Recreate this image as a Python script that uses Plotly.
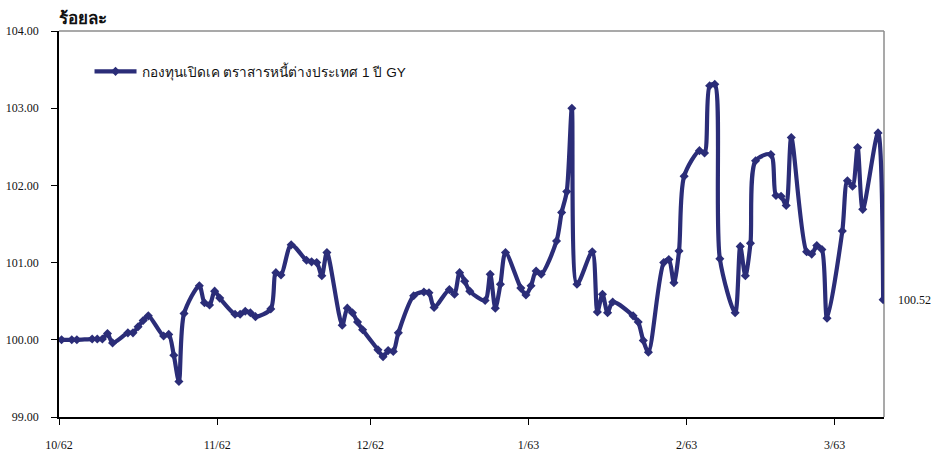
import plotly.graph_objects as go

# ---- data ----
dates = [
    "2019-10-01", "2019-10-03", "2019-10-04", "2019-10-07", "2019-10-08", "2019-10-09",
    "2019-10-10", "2019-10-11", "2019-10-14", "2019-10-15", "2019-10-16", "2019-10-17",
    "2019-10-18", "2019-10-21", "2019-10-22", "2019-10-23", "2019-10-24", "2019-10-25",
    "2019-10-28", "2019-10-29", "2019-10-30", "2019-10-31",
    "2019-11-01", "2019-11-04", "2019-11-05", "2019-11-06", "2019-11-07", "2019-11-08",
    "2019-11-11", "2019-11-12", "2019-11-13", "2019-11-15", "2019-11-18", "2019-11-19",
    "2019-11-20", "2019-11-21", "2019-11-22", "2019-11-25", "2019-11-26", "2019-11-27",
    "2019-11-28", "2019-11-29",
    "2019-12-02", "2019-12-03", "2019-12-04", "2019-12-05", "2019-12-06", "2019-12-09",
    "2019-12-11", "2019-12-12", "2019-12-13", "2019-12-16", "2019-12-17", "2019-12-18",
    "2019-12-19", "2019-12-20", "2019-12-23", "2019-12-24", "2019-12-25", "2019-12-26",
    "2019-12-27", "2019-12-30", "2019-12-31",
    "2020-01-01", "2020-01-02", "2020-01-03", "2020-01-06", "2020-01-07", "2020-01-08",
    "2020-01-09", "2020-01-10", "2020-01-13", "2020-01-14", "2020-01-15", "2020-01-16",
    "2020-01-17", "2020-01-21", "2020-01-22", "2020-01-23", "2020-01-24", "2020-01-27",
    "2020-01-28", "2020-01-29", "2020-01-30", "2020-01-31",
    "2020-02-03", "2020-02-04", "2020-02-05", "2020-02-06", "2020-02-07", "2020-02-10",
    "2020-02-11", "2020-02-12", "2020-02-13", "2020-02-14", "2020-02-17", "2020-02-18",
    "2020-02-19", "2020-02-20", "2020-02-21", "2020-02-24", "2020-02-25", "2020-02-26",
    "2020-02-27", "2020-02-28",
    "2020-03-02", "2020-03-03", "2020-03-04", "2020-03-05", "2020-03-06", "2020-03-09",
    "2020-03-10",
]
values = [
    100.00, 100.00, 100.00, 100.01, 100.01, 100.01, 100.08, 99.96, 100.09, 100.09, 100.17, 100.25,
    100.31, 100.05, 100.07, 99.80, 99.46, 100.34, 100.70, 100.48, 100.45, 100.63,
    100.54, 100.33, 100.33, 100.37, 100.35, 100.30, 100.40, 100.87, 100.84, 101.23, 101.03, 101.01,
    101.00, 100.83, 101.13, 100.19, 100.41, 100.35, 100.23, 100.13,
    99.87, 99.78, 99.86, 99.85, 100.09, 100.57, 100.62, 100.61, 100.42, 100.65, 100.59, 100.87,
    100.76, 100.63, 100.51, 100.85, 100.41, 100.72, 101.13, 100.67, 100.58,
    100.70, 100.89, 100.85, 101.28, 101.65, 101.92, 103.00, 100.72, 101.14, 100.36, 100.59, 100.35,
    100.49, 100.31, 100.23, 99.99, 99.84, 101.00, 101.04, 100.74, 101.15, 102.12,
    102.45, 102.42, 103.29, 103.31, 101.05, 100.35, 101.21, 100.83, 101.25, 102.32, 102.40, 101.87,
    101.86, 101.74, 102.62, 101.14, 101.11, 101.22, 101.17, 100.28,
    101.41, 102.06, 101.99, 102.49, 101.69, 102.68, 100.52,
]
series_name = "กองทุนเปิดเค ตราสารหนี้ต่างประเทศ 1 ปี GY"
y_title = "ร้อยละ"
tick_dates = ["2019-09-30 12:00", "2019-10-31 12:00", "2019-11-30 12:00",
              "2019-12-31 12:00", "2020-01-31 12:00", "2020-02-29 12:00"]
tick_labels = ["10/62", "11/62", "12/62", "1/63", "2/63", "3/63"]
x_range = ["2019-09-30 12:00", "2020-03-10 04:00"]
y_range = [99, 104]

COLOR = "#2B2D78"
SERIF = "Liberation Serif, Times New Roman, serif"
SANS = "Liberation Sans, Arial, sans-serif"

fig = go.Figure()
fig.add_trace(go.Scatter(
    x=dates, y=values, name=series_name, mode="lines+markers",
    line=dict(color=COLOR, width=4.2, shape="spline", smoothing=0.8),
    marker=dict(symbol="diamond", size=7, color=COLOR),
))

fig.add_annotation(
    x=dates[-1], y=values[-1], text=f"{values[-1]:.2f}", showarrow=False,
    xanchor="left", yanchor="middle", xshift=13,
    font=dict(family=SERIF, size=12, color="#111111"),
)
fig.add_annotation(
    xref="paper", yref="paper", x=-0.002, y=1.0, yshift=1, text=f"<b>{y_title}</b>",
    showarrow=False, xanchor="left", yanchor="bottom",
    font=dict(family=SANS, size=17, color="#111111"),
)

# gray frame top/right
fig.add_shape(type="line", xref="paper", yref="paper", x0=0, x1=1, y0=1, y1=1,
              line=dict(color="#8C8C8C", width=1.5), layer="below")
fig.add_shape(type="line", xref="paper", yref="paper", x0=1, x1=1, y0=0, y1=1,
              line=dict(color="#8C8C8C", width=1.5), layer="below")

fig.update_layout(
    width=942, height=453,
    margin=dict(l=59, r=58, t=31, b=36, autoexpand=False),
    paper_bgcolor="white", plot_bgcolor="white",
    showlegend=True,
    legend=dict(x=0.037, y=0.895, xanchor="left", yanchor="middle",
                bgcolor="rgba(0,0,0,0)", itemwidth=42,
                font=dict(family=SANS, size=13.6, color="#111111")),
)
fig.update_xaxes(
    type="date", range=x_range, tickmode="array", tickvals=tick_dates, ticktext=tick_labels,
    automargin=False,
    showgrid=False, zeroline=False, showline=True, linecolor="black", linewidth=1.5,
    ticks="outside", ticklen=6, tickcolor="black", tickwidth=1,
    ticklabelstandoff=10,
    tickfont=dict(family=SERIF, size=12, color="#111111"),
)
fig.update_yaxes(
    range=y_range, dtick=1, tickformat=".2f", automargin=False,
    showgrid=False, zeroline=False, showline=True, linecolor="black", linewidth=1.5,
    ticks="outside", ticklen=6, tickcolor="black", tickwidth=1,
    ticklabelstandoff=10,
    tickfont=dict(family=SERIF, size=12, color="#111111"),
)

fig.write_html("out.html", config={"displayModeBar": False},
               post_script="document.body.style.margin='0';")
